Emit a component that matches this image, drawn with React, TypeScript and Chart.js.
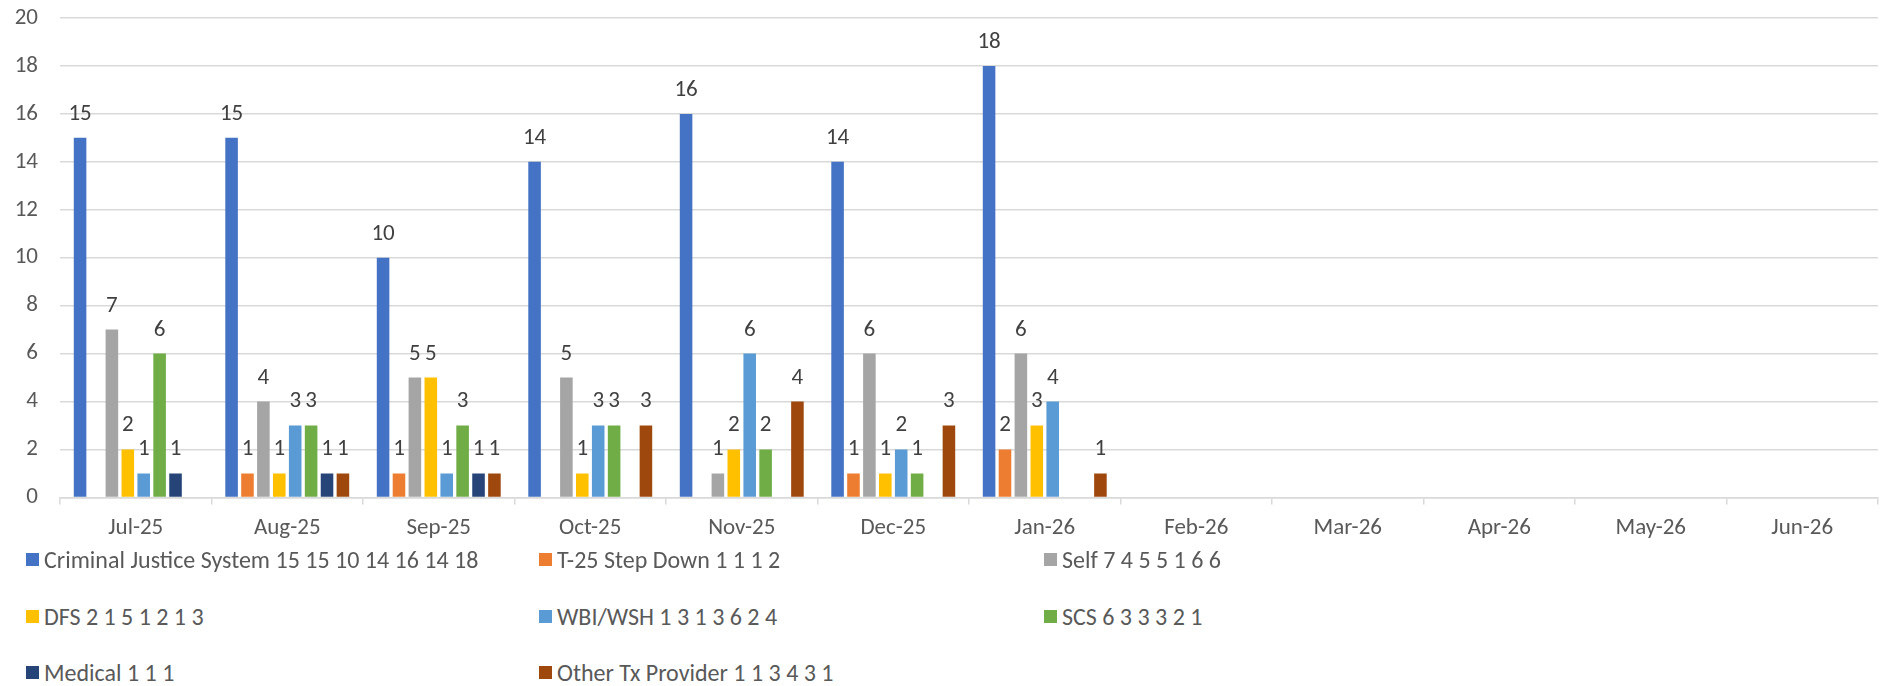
import { useEffect, useRef } from "react";
import { Chart, registerables } from "chart.js";

Chart.register(...registerables);

// Months on the category axis
const months = [
  "Jul-25", "Aug-25", "Sep-25", "Oct-25", "Nov-25", "Dec-25",
  "Jan-26", "Feb-26", "Mar-26", "Apr-26", "May-26", "Jun-26",
];

// Referral counts per source, one entry per month (null = no referrals)
const criminalJustice = [15, 15, 10, 14, 16, 14, 18, null, null, null, null, null];
const t25StepDown = [null, 1, 1, null, null, 1, 2, null, null, null, null, null];
const selfReferral = [7, 4, 5, 5, 1, 6, 6, null, null, null, null, null];
const dfs = [2, 1, 5, 1, 2, 1, 3, null, null, null, null, null];
const wbiWsh = [1, 3, 1, 3, 6, 2, 4, null, null, null, null, null];
const scs = [6, 3, 3, 3, 2, 1, null, null, null, null, null, null];
const medical = [1, 1, 1, null, null, null, null, null, null, null, null, null];
const otherTxProvider = [null, 1, 1, 3, 4, 3, 1, null, null, null, null, null];

const seriesNames = [
  "Criminal Justice System", "T-25 Step Down", "Self", "DFS",
  "WBI/WSH", "SCS", "Medical", "Other Tx Provider",
];
const seriesValues = [
  criminalJustice, t25StepDown, selfReferral, dfs,
  wbiWsh, scs, medical, otherTxProvider,
];
const seriesColors = [
  "#4472C4", "#ED7D31", "#A5A5A5", "#FFC000",
  "#5B9BD5", "#70AD47", "#264478", "#9E480E",
];

// Value axis range
const yMin = 0;
const yMax = 20;
const yStep = 2;

const FONT = "Carlito, Lato, sans-serif";
const TEXT_GREY = "#595959";
const LABEL_GREY = "#404040";
const GRID_GREY = "#D9D9D9";

// Legend: three columns, laid out row by row
const legendColumnsX = [26, 539, 1044];
const legendRowsY = [559, 616, 672];

// Draws the value above each bar
const barValueLabels = {
  id: "barValueLabels",
  afterDatasetsDraw(chart: any) {
    const ctx = chart.ctx;
    ctx.save();
    ctx.font = `23px ${FONT}`;
    ctx.fillStyle = LABEL_GREY;
    ctx.textAlign = "center";
    ctx.textBaseline = "alphabetic";
    chart.data.datasets.forEach((ds: any, i: number) => {
      const meta = chart.getDatasetMeta(i);
      meta.data.forEach((bar: any, j: number) => {
        const v = ds.data[j];
        if (v === null || v === undefined) return;
        ctx.fillText(String(v), bar.x, bar.y - 18);
      });
    });
    ctx.restore();
  },
};

function legendText(i: number) {
  const vals = seriesValues[i].filter((v) => v !== null) as number[];
  return `${seriesNames[i]} ${vals.join(" ")}`;
}

export default function App() {
  const canvasRef = useRef<HTMLCanvasElement | null>(null);

  useEffect(() => {
    const canvas = canvasRef.current;
    if (!canvas) return;
    const chart = new Chart(canvas, {
      type: "bar",
      data: {
        labels: months,
        datasets: seriesNames.map((name, i) => ({
          label: name,
          data: seriesValues[i],
          backgroundColor: seriesColors[i],
          borderWidth: 0,
        })),
      },
      options: {
        animation: false,
        responsive: true,
        maintainAspectRatio: false,
        layout: { padding: { top: 18, right: 8, left: 0, bottom: 0 } },
        datasets: { bar: { categoryPercentage: 0.84, barPercentage: 0.79 } },
        plugins: {
          legend: { display: false },
          tooltip: { enabled: false },
        },
        scales: {
          x: {
            grid: {
              offset: true,
              drawOnChartArea: false,
              drawTicks: true,
              tickLength: 7,
              color: GRID_GREY,
              lineWidth: 1.5,
            },
            border: { display: true, color: GRID_GREY, width: 1.5 },
            ticks: {
              color: TEXT_GREY,
              font: { family: FONT, size: 23 },
              padding: 10,
              maxRotation: 0,
              autoSkip: false,
            },
            afterFit: (scale: any) => {
              scale.paddingLeft = 0;
              scale.paddingRight = 0;
            },
          },
          y: {
            min: yMin,
            max: yMax,
            ticks: {
              stepSize: yStep,
              color: TEXT_GREY,
              font: { family: FONT, size: 23 },
              padding: 22,
            },
            grid: { color: GRID_GREY, drawTicks: false, lineWidth: 1.5 },
            border: { display: false },
            afterFit: (scale: any) => {
              scale.width = 60;
              scale.paddingTop = 0;
              scale.paddingBottom = 0;
            },
          },
        },
      },
      plugins: [barValueLabels],
    });
    return () => chart.destroy();
  }, []);

  return (
    <div
      style={{
        position: "fixed",
        left: 0,
        top: 0,
        width: 1886,
        height: 686,
        background: "#FFFFFF",
        overflow: "hidden",
      }}
    >
      <div style={{ position: "absolute", left: 0, top: 0, width: 1886, height: 552 }}>
        <canvas ref={canvasRef} />
      </div>
      {seriesNames.map((_, i) => {
        const col = i % 3;
        const row = Math.floor(i / 3);
        return (
          <div
            key={i}
            style={{
              position: "absolute",
              left: legendColumnsX[col],
              top: legendRowsY[row] - 16,
              height: 32,
              display: "flex",
              alignItems: "center",
              fontFamily: FONT,
              fontSize: 24,
              color: TEXT_GREY,
              whiteSpace: "nowrap",
            }}
          >
            <span
              style={{
                display: "inline-block",
                width: 13,
                height: 13,
                background: seriesColors[i],
                marginRight: 5,
              }}
            />
            <span>{legendText(i)}</span>
          </div>
        );
      })}
    </div>
  );
}
